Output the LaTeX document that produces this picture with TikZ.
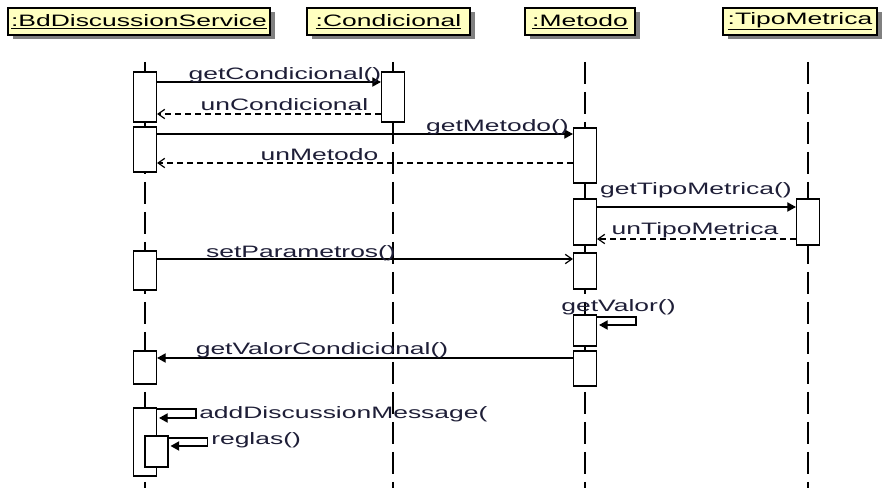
\documentclass[tikz,border=0pt]{standalone}
\usepackage{fontspec}
\setmainfont{Liberation Sans}[FakeStretch=1.6]
\usetikzlibrary{positioning,arrows.meta,shadows}
\definecolor{objfill}{RGB}{255,255,192}
\definecolor{objshadow}{RGB}{128,128,128}
\definecolor{msgtext}{RGB}{30,30,55}
\newcommand{\BDX}{145}
\newcommand{\CONDX}{393}
\newcommand{\METX}{585}
\newcommand{\TIPOX}{808}
\newcommand{\LIFETOP}{62}
\newcommand{\LIFEBOT}{488}

\begin{document}
\begin{tikzpicture}[x=0.75pt,y=-0.75pt]
\tikzstyle{every node}=[font=\fontsize{12.4}{14}\selectfont]
\tikzstyle{obj}=[draw, line width=1.1pt, fill=objfill, minimum height=20.25pt, inner sep=0pt,
	drop shadow={shadow xshift=3.5pt, shadow yshift=-3pt, fill=objshadow, opacity=1}]
\tikzstyle{lifeline}=[line width=1.5pt, dash pattern=on 16.5pt off 6pt]
\tikzstyle{act}=[draw, line width=1.1pt, fill=white, minimum width=17pt, inner sep=0pt]
\tikzstyle{call}=[line width=0.9pt, -{Triangle[length=6.5pt,width=7pt]}]
\tikzstyle{send}=[line width=0.9pt, -{Straight Barb[length=5pt,width=7pt]}]
\tikzstyle{reply}=[line width=0.9pt, dash pattern=on 4.5pt off 3pt, -{Straight Barb[length=5pt,width=7pt]}]
\tikzstyle{lbl}=[text=msgtext, inner sep=0pt]
\useasboundingbox (0,0) rectangle (883,488);

% Objects
	\node[obj, minimum width=196.5pt] (bd) at (139,21.5) {\underline{:BdDiscussionService}};
	\node[obj, minimum width=122.25pt] (cond) at (388.5,21.5) {\underline{:Condicional}};
	\node[obj, minimum width=82.5pt] (met) at (580,21.5) {\underline{:Metodo}};
	\node[obj, minimum width=115.5pt] (tipo) at (800,21.5) {\underline{:TipoMetrica}};

% Lifelines
	\coordinate (bdTop) at (\BDX,\LIFETOP);
	\coordinate (bdBot) at (\BDX,\LIFEBOT);
	\coordinate (condTop) at (\CONDX,\LIFETOP);
	\coordinate (condBot) at (\CONDX,\LIFEBOT);
	\coordinate (metTop) at (\METX,\LIFETOP);
	\coordinate (metBot) at (\METX,\LIFEBOT);
	\coordinate (tipoTop) at (\TIPOX,\LIFETOP);
	\coordinate (tipoBot) at (\TIPOX,\LIFEBOT);
	\draw[lifeline] (bdTop) -- (bdBot);
	\draw[lifeline] (condTop) -- (condBot);
	\draw[lifeline] (metTop) -- (metBot);
	\draw[lifeline] (tipoTop) -- (tipoBot);

% Activations
	\node[act, minimum height=37.5pt] (A1) at (\BDX,97) {};
	\node[act, minimum height=33.75pt] (A2) at (\BDX,149.5) {};
	\node[act, minimum height=29.25pt] (A3) at (\BDX,270.5) {};
	\node[act, minimum height=24.75pt] (A4) at (\BDX,367.5) {};
	\node[act, minimum height=51pt] (A5) at (\BDX,442) {};
	\node[act, minimum height=23.25pt] (A6) at (156.5,451.5) {};
	\node[act, minimum height=37.5pt] (C1) at (\CONDX,97) {};
	\node[act, minimum height=41.25pt] (M1) at (\METX,155.5) {};
	\node[act, minimum height=34.5pt] (M2) at (\METX,222) {};
	\node[act, minimum height=27pt] (M3) at (\METX,271) {};
	\node[act, minimum height=23.25pt] (M4) at (\METX,330.5) {};
	\node[act, minimum height=26.25pt] (M5) at (\METX,368.5) {};
	\node[act, minimum height=34.5pt] (T1) at (\TIPOX,222) {};

% Messages
	\coordinate (m1) at (0,82);
	\coordinate (m2) at (0,114);
	\coordinate (m3) at (0,134);
	\coordinate (m4) at (0,163);
	\coordinate (m5) at (0,207);
	\coordinate (m6) at (0,239);
	\coordinate (m7) at (0,259);
	\coordinate (m8) at (0,317);
	\coordinate (m9) at (0,358);
	\coordinate (m10) at (0,409);
	\coordinate (m11) at (0,438);
	\draw[call] (A1.east |- m1) -- (C1.west |- m1);
	\draw[reply] (C1.west |- m2) -- (A1.east |- m2);
	\draw[call] (A2.east |- m3) -- (M1.west |- m3);
	\draw[reply] (M1.west |- m4) -- (A2.east |- m4);
	\draw[call] (M2.east |- m5) -- (T1.west |- m5);
	\draw[reply] (T1.west |- m6) -- (M2.east |- m6);
	\draw[send] (A3.east |- m7) -- (M3.west |- m7);
	\draw[call] (M4.east |- m8) -- ++(39,0) -- ++(0,8) -- ++(-37,0);
	\draw[call] (M5.west |- m9) -- (A4.east |- m9);
	\draw[call] (A5.east |- m10) -- ++(39,0) -- ++(0,9) -- ++(-37,0);
	\draw[call] (A6.east |- m11) -- ++(39,0) -- ++(0,8) -- ++(-37,0);

% Labels
	\node[lbl, anchor=base] (lGetCond) at (285,80) {getCondicional()};
	\node[lbl, anchor=base] (lUnCond) at (284.5,111) {unCondicional};
	\node[lbl, anchor=base] (lGetMet) at (497.5,131.5) {getMetodo()};
	\node[lbl, anchor=base] (lUnMet) at (319.5,161) {unMetodo};
	\node[lbl, anchor=base] (lGetTipo) at (696,195) {getTipoMetrica()};
	\node[lbl, anchor=base] (lUnTipo) at (695,235) {unTipoMetrica};
	\node[lbl, anchor=base] (lSetPar) at (301,257.5) {setParametros()};
	\node[lbl, anchor=base] (lGetVal) at (618.5,311.5) {getValor()};
	\node[lbl, anchor=base] (lGetValCond) at (322,355) {getValorCondicional()};
	\node[lbl, anchor=base west] (lAddMsg) at (199,419) {addDiscussionMessage(};
	\node[lbl, anchor=base west] (lReglas) at (211,445) {reglas()};

\end{tikzpicture}
\end{document}
